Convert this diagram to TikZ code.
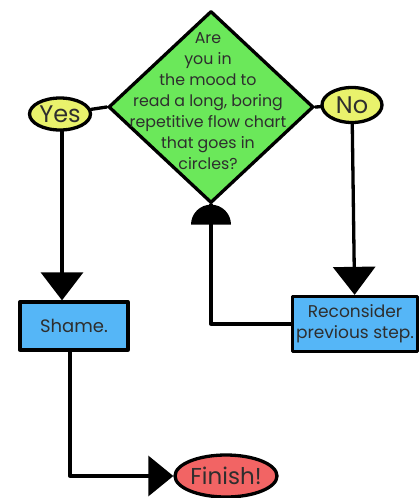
\documentclass[tikz,border=0pt]{standalone}
\usepackage{fontspec}
\setmainfont{Poppins}
\usetikzlibrary{shapes.geometric,arrows.meta,calc}
\definecolor{greenc}{HTML}{6BE85A}
\definecolor{yellowc}{HTML}{E9F26C}
\definecolor{bluec}{HTML}{55B6F7}
\definecolor{redc}{HTML}{F26464}
\definecolor{textc}{HTML}{2E2E2E}
\begin{document}
\begin{tikzpicture}[x=1pt,y=-1pt,line width=3.3pt,line join=round,line cap=round,
  dia/.style={diamond,draw,fill=greenc,minimum width=205pt,minimum height=192pt,inner sep=0pt},
  term/.style={ellipse,draw,fill=yellowc,inner sep=0pt,text=textc},
  proc/.style={rectangle,draw,fill=bluec,inner sep=0pt,text=textc,align=center},
  big/.style={-{Triangle[width=42pt,length=28pt]}},
  label/.style={text=textc,align=center}]
\useasboundingbox (0,0) rectangle (420,498);
\node[dia] (q) at (211,107) {};
\node[label,font=\fontsize{15.8}{21}\selectfont] (qt) at (208,101) {Are\\you in\\the mood to\\read a long, boring\\repetitive flow chart\\that goes in\\circles?};
\node[term,minimum width=61pt,minimum height=32pt,font=\fontsize{24}{26}\selectfont] (yes) at (60,114) {Yes};
\node[term,minimum width=60pt,minimum height=35pt,font=\fontsize{24}{26}\selectfont] (no) at (352,105) {No};
\node[proc,minimum width=108pt,minimum height=48pt,font=\fontsize{18}{20}\selectfont] (shame) at (74,326) {Shame.};
\node[proc,minimum width=125pt,minimum height=55pt,font=\fontsize{17}{21}\selectfont] (rec) at (355,324) {Reconsider\\previous step.};
\node[term,fill=redc,minimum width=102pt,minimum height=42pt,font=\fontsize{23}{26}\selectfont] (fin) at (226,476) {Finish!};
\draw (yes) -- (q.west);
\draw (q.east) -- (no);
\draw[big] ([xshift=2pt]yes.south) -- ([xshift=2pt]yes.south |- shame.north);
\draw[big] (no) -- (rec);
\draw (rec.west) -| (q.south);
\fill ([shift={(-20,20)}]q.south) arc[start angle=180,end angle=360,x radius=20,y radius=20] -- cycle;
\draw[-{Triangle[width=40pt,length=25pt]}] ([xshift=-4pt]shame.south) |- (fin.west);
\end{tikzpicture}
\end{document}
